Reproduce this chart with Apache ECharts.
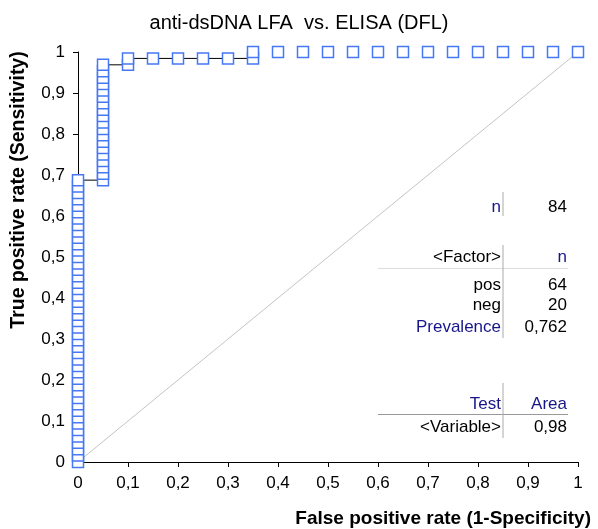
<!DOCTYPE html>
<html>
<head>
<meta charset="utf-8">
<script src="https://cdn.jsdelivr.net/npm/echarts@6/dist/echarts.min.js"></script>
<style>
  html, body { margin: 0; padding: 0; background: #fff; }
  #chart { width: 598px; height: 529px; }
</style>
</head>
<body>
<div id="chart"></div>
<script>
const title = 'anti-dsDNA LFA  vs. ELISA (DFL)';
const xTitle = 'False positive rate (1-Specificity)';
const yTitle = 'True positive rate (Sensitivity)';

const nPos = 64;
const nNeg = 20;

// ROC points as counts: false positives and true positives at each cut-off
const fpCounts = [
    0, 0, 0, 0, 0, 0, 0, 0, 0, 0, 0, 0, 0, 0, 0, 0, 0, 0, 0, 0, 0, 0, 0,
    0, 0, 0, 0, 0, 0, 0, 0, 0, 0, 0, 0, 0, 0, 0, 0, 0, 0, 0, 0, 0, 0,
    1, 1, 1, 1, 1, 1, 1, 1, 1, 1, 1, 1, 1, 1, 1, 1, 1, 1, 1,
    2, 2, 3, 4, 5, 6, 7, 7,
    8, 9, 10, 11, 12, 13, 14, 15, 16, 17, 18, 19, 20
];
const tpCounts = [
    0, 1, 2, 3, 4, 5, 6, 7, 8, 9, 10, 11, 12, 13, 14, 15, 16, 17, 18, 19, 20, 21, 22,
    23, 24, 25, 26, 27, 28, 29, 30, 31, 32, 33, 34, 35, 36, 37, 38, 39, 40, 41, 42, 43, 44,
    44, 45, 46, 47, 48, 49, 50, 51, 52, 53, 54, 55, 56, 57, 58, 59, 60, 61, 62,
    62, 63, 63, 63, 63, 63, 63, 64,
    64, 64, 64, 64, 64, 64, 64, 64, 64, 64, 64, 64, 64
];

const xTicks = ['0', '0,1', '0,2', '0,3', '0,4', '0,5', '0,6', '0,7', '0,8', '0,9', '1'];
const yTicks = ['0', '0,1', '0,2', '0,3', '0,4', '0,5', '0,6', '0,7', '0,8', '0,9', '1'];

const sampleN = ['n', '84'];
const factorHead = ['<Factor>', 'n'];
const factorRows = [['pos', '64'], ['neg', '20']];
const prevalence = ['Prevalence', '0,762'];
const areaHead = ['Test', 'Area'];
const areaRow = ['<Variable>', '0,98'];

const rocPoints = fpCounts.map((fp, i) => [fp / nNeg, tpCounts[i] / nPos]);
const lineEnd = tpCounts.indexOf(nPos);
const rocLine = rocPoints.slice(0, lineEnd + 1);

const FONT = '"Liberation Sans", Arial, sans-serif';
const NAVY = '#16168a';
const BLUE = '#4677f5';

const chart = echarts.init(document.getElementById('chart'));

function cell(text, x, y, color) {
    return {
        type: 'text',
        x: x,
        y: y,
        style: {
            text: text,
            align: 'right',
            verticalAlign: 'middle',
            fill: color || '#000',
            font: '17px ' + FONT
        }
    };
}
function rule(x1, y1, x2, y2, color) {
    return {
        type: 'line',
        shape: { x1: x1, y1: y1, x2: x2, y2: y2 },
        style: { stroke: color, lineWidth: 1 }
    };
}

const colL = 501;
const colR = 567;

const option = {
    backgroundColor: '#fff',
    animation: false,
    title: {
        text: title,
        left: 'center',
        top: 8,
        textStyle: { fontFamily: FONT, fontSize: 20, fontWeight: 'normal', color: '#000' }
    },
    grid: { left: 78, right: 20, top: 52, bottom: 67 },
    xAxis: {
        type: 'value',
        min: 0,
        max: 1,
        interval: 0.1,
        axisLine: { show: true, lineStyle: { color: '#000', width: 1 } },
        axisTick: { show: true, length: 5, lineStyle: { color: '#000' } },
        splitLine: { show: false },
        axisLabel: {
            margin: 13,
            fontFamily: FONT,
            fontSize: 17,
            color: '#000',
            formatter: (v) => xTicks[Math.round(v * 10)]
        }
    },
    yAxis: {
        type: 'value',
        min: 0,
        max: 1,
        interval: 0.1,
        axisLine: { show: true, lineStyle: { color: '#000', width: 1 } },
        axisTick: { show: true, length: 5, lineStyle: { color: '#000' } },
        splitLine: { show: false },
        axisLabel: {
            margin: 13,
            fontFamily: FONT,
            fontSize: 17,
            color: '#000',
            formatter: (v) => yTicks[Math.round(v * 10)]
        }
    },
    series: [
        {
            type: 'line',
            data: [[0, 0], [1, 1]],
            symbol: 'none',
            lineStyle: { color: '#c4c4c4', width: 1 },
            z: 1
        },
        {
            type: 'line',
            data: rocLine,
            symbol: 'none',
            lineStyle: { color: '#000', width: 1 },
            z: 2
        },
        {
            type: 'scatter',
            data: rocPoints,
            symbol: 'rect',
            symbolSize: 11,
            itemStyle: { color: '#fff', borderColor: BLUE, borderWidth: 1.5, opacity: 1 },
            z: 3
        }
    ],
    graphic: [
        {
            type: 'text',
            x: 591,
            y: 519,
            style: {
                text: xTitle,
                align: 'right',
                verticalAlign: 'middle',
                fill: '#000',
                font: 'bold 19px ' + FONT
            }
        },
        {
            type: 'text',
            x: 19,
            y: 190,
            rotation: Math.PI / 2,
            style: {
                text: yTitle,
                align: 'center',
                verticalAlign: 'middle',
                fill: '#000',
                font: 'bold 19.5px ' + FONT
            }
        },
        cell(sampleN[0], colL, 207, NAVY),
        cell(sampleN[1], colR, 207),
        rule(503, 192, 503, 216, '#aaa'),

        cell(factorHead[0], colL, 257),
        cell(factorHead[1], colR, 257, NAVY),
        rule(378, 268.5, 568, 268.5, '#ddd'),
        cell(factorRows[0][0], colL, 285),
        cell(factorRows[0][1], colR, 285),
        cell(factorRows[1][0], colL, 305),
        cell(factorRows[1][1], colR, 305),
        cell(prevalence[0], colL, 327, NAVY),
        cell(prevalence[1], colR, 327),
        rule(503, 245, 503, 338, '#aaa'),

        cell(areaHead[0], colL, 404, NAVY),
        cell(areaHead[1], colR, 404, NAVY),
        rule(378, 414.5, 568, 414.5, '#999'),
        cell(areaRow[0], colL, 427),
        cell(areaRow[1], colR, 427),
        rule(503, 383, 503, 438, '#aaa')
    ]
};

chart.setOption(option);
window.addEventListener('resize', () => chart.resize());
</script>
</body>
</html>
